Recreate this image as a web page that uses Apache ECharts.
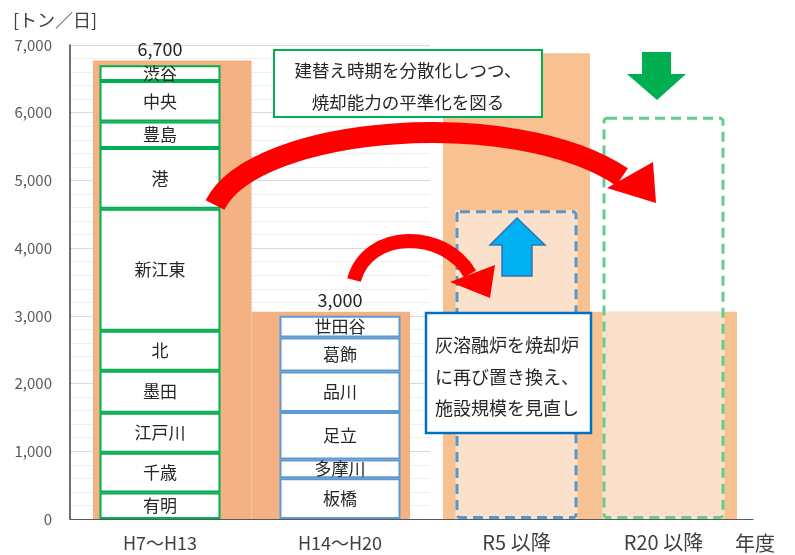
<!DOCTYPE html>
<html>
<head>
<meta charset="utf-8">
<script src="https://cdn.jsdelivr.net/npm/echarts@6/dist/echarts.min.js"></script>
<style>
html, body { margin: 0; padding: 0; background: #fff; }
#chart { width: 795px; height: 555px; }
</style>
</head>
<body>
<div id="chart"></div>
<script>
// categories
var pastCats = ['H7～H13', 'H14～H20'];
var futureCats = ['R5 以降', 'R20 以降'];

// plants per period (bottom -> top), t/day
var h7Names = ['有明', '千歳', '江戸川', '墨田', '北', '新江東', '港', '豊島', '中央', '渋谷'];
var h7Values = [390, 590, 590, 620, 590, 1800, 900, 390, 600, 230];
var h14Names = ['板橋', '多摩川', '足立', '品川', '葛飾', '世田谷'];
var h14Values = [600, 280, 700, 600, 500, 320];

// orange capacity blocks and dashed plan boxes
var pastCapacity = [6770, 3060];
var futureCapacity = [6880, 3060];
var futurePlan = [4560, 5940];

var FONT = "'Noto Sans CJK JP', 'Noto Sans', sans-serif";
var GREEN = '#00B050';
var BLUE = '#5B9BD5';
var TEXT = '#262626';

function sum(a) {
    return a.reduce(function (s, v) { return s + v; }, 0);
}
var totals = [sum(h7Values), sum(h14Values)];

var chart = echarts.init(document.getElementById('chart'));

function segSeries(names, values, col, border) {
    return names.map(function (name, i) {
        var data = ['-', '-'];
        data[col] = values[i];
        return {
            name: name,
            type: 'bar',
            stack: 'past',
            xAxisIndex: 0,
            yAxisIndex: 0,
            barWidth: 121,
            data: data,
            itemStyle: { color: '#fff', borderColor: border, borderWidth: 2 },
            label: { show: true, position: 'inside', formatter: '{a}', fontSize: 17, color: TEXT }
        };
    });
}

var valueAxis = { type: 'value', min: 0, max: 7000, interval: 1000 };

function makeGrid(left, width) {
    return { left: left, width: width, top: 45, bottom: 36, outerBoundsMode: 'none', containLabel: false };
}

var series = [
    {
        type: 'bar', xAxisIndex: 1, yAxisIndex: 1, z: 1, silent: true,
        barWidth: '100%', data: pastCapacity,
        itemStyle: { color: '#F4B183' }
    },
    {
        type: 'bar', xAxisIndex: 2, yAxisIndex: 2, z: 1, silent: true,
        barWidth: '100%', data: futureCapacity,
        itemStyle: { color: '#F8C191' }
    },
    {
        // lighter part where the plan box overlaps the capacity block
        type: 'bar', xAxisIndex: 3, yAxisIndex: 2, z: 2, silent: true,
        barWidth: 122, barGap: '-100%',
        data: futurePlan.map(function (v, i) { return Math.min(v, futureCapacity[i]); }),
        itemStyle: { color: '#FBE1CC' }
    },
    {
        type: 'bar', xAxisIndex: 3, yAxisIndex: 2, z: 3, silent: true,
        barWidth: 122, barGap: '-100%',
        data: futurePlan.map(function (v, i) {
            return { value: v, itemStyle: { borderColor: i === 0 ? '#5A96C8' : '#62CE8C' } };
        }),
        itemStyle: { color: 'transparent', borderWidth: 3, borderType: [10, 6], borderRadius: 3 }
    }
].concat(segSeries(h7Names, h7Values, 0, GREEN))
 .concat(segSeries(h14Names, h14Values, 1, BLUE))
 .concat([{
    name: 'total', type: 'bar', stack: 'past', xAxisIndex: 0, yAxisIndex: 0,
    barWidth: 121, data: [0, 0],
    itemStyle: { color: 'transparent' },
    label: {
        show: true, position: 'top', distance: 7, fontSize: 18, color: TEXT,
        formatter: function (p) { return totals[p.dataIndex].toLocaleString('en-US'); }
    }
}]);

var arrowZ = 100;

option = {
    animation: false,
    backgroundColor: '#fff',
    textStyle: { fontFamily: FONT },
    grid: [
        makeGrid(70, 360),
        makeGrid(93, 317),
        makeGrid(443, 294),
        makeGrid(430, 323)
    ],
    xAxis: [
        {
            gridIndex: 0, type: 'category', data: pastCats,
            axisLine: { lineStyle: { color: '#595959' } },
            axisTick: { show: false },
            axisLabel: { fontSize: 18, color: '#404040', margin: 15 }
        },
        { gridIndex: 1, type: 'category', data: pastCats, show: false },
        {
            gridIndex: 2, type: 'category', data: futureCats,
            axisLine: { show: false },
            axisTick: { show: false },
            axisLabel: { fontSize: 20, color: '#404040', margin: 13 }
        },
        { gridIndex: 2, type: 'category', data: futureCats, show: false },
        {
            gridIndex: 3, type: 'category', data: [''],
            axisLine: { lineStyle: { color: '#595959' } },
            axisTick: { show: false },
            axisLabel: { show: false },
            // empty first line pushes the name below the axis line
            name: '\n年度', nameLocation: 'end', nameGap: -18,
            nameTextStyle: { fontSize: 20, lineHeight: 48, color: '#404040' }
        }
    ],
    yAxis: [
        Object.assign({}, valueAxis, {
            gridIndex: 0,
            name: '[トン／日]', nameLocation: 'end', nameGap: 16,
            nameTextStyle: { fontSize: 18, color: '#404040', padding: [0, 30, 0, 0] },
            axisLine: { show: true, lineStyle: { color: '#404040', width: 1.5 } },
            axisTick: { show: false },
            axisLabel: {
                fontSize: 15, color: '#595959', margin: 18,
                formatter: function (v) { return v.toLocaleString('en-US'); }
            },
            splitLine: { lineStyle: { color: '#D9D9D9' } },
            minorTick: { show: false, splitNumber: 5 },
            minorSplitLine: { show: true, lineStyle: { color: '#EFEFEF' } }
        }),
        Object.assign({}, valueAxis, { gridIndex: 1, show: false }),
        Object.assign({}, valueAxis, { gridIndex: 2, show: false }),
        Object.assign({}, valueAxis, { gridIndex: 3, show: false })
    ],
    series: series,
    graphic: [
        // text box: top
        {
            type: 'rect', z: arrowZ,
            shape: { x: 274, y: 50, width: 268, height: 67 },
            style: { fill: '#fff', stroke: GREEN, lineWidth: 2 }
        },
        {
            type: 'text', z: arrowZ + 1,
            style: {
                text: '建替え時期を分散化しつつ、\n焼却能力の平準化を図る',
                x: 408, y: 86, align: 'center', verticalAlign: 'middle',
                fontSize: 17.5, lineHeight: 32, fill: TEXT, fontFamily: FONT
            }
        },
        // text box: middle
        {
            type: 'rect', z: arrowZ,
            shape: { x: 426, y: 313, width: 165, height: 120 },
            style: { fill: '#fff', stroke: '#0070C0', lineWidth: 2.5 }
        },
        {
            type: 'text', z: arrowZ + 1,
            style: {
                text: '灰溶融炉を焼却炉\nに再び置き換え、\n施設規模を見直し',
                x: 435, y: 377, align: 'left', verticalAlign: 'middle',
                fontSize: 18, lineHeight: 31.5, fill: TEXT, fontFamily: FONT
            }
        },
        // big red arrow
        {
            type: 'bezierCurve', z: arrowZ,
            shape: { x1: 215, y1: 205, cpx1: 255, cpy1: 125, cpx2: 515, cpy2: 105, x2: 622, y2: 177 },
            style: { stroke: '#FF0000', lineWidth: 21, fill: null }
        },
        {
            type: 'polygon', z: arrowZ,
            shape: { points: [[607, 188], [653, 162], [656, 203]] },
            style: { fill: '#FF0000' }
        },
        // small red arrow
        {
            type: 'bezierCurve', z: arrowZ,
            shape: { x1: 354, y1: 280, cpx1: 368, cpy1: 229, cpx2: 444, cpy2: 229, x2: 470, y2: 274 },
            style: { stroke: '#FF0000', lineWidth: 14, fill: null }
        },
        {
            type: 'polygon', z: arrowZ,
            shape: { points: [[450, 282], [495, 265], [490, 298]] },
            style: { fill: '#FF0000' }
        },
        // blue up arrow
        {
            type: 'polygon', z: arrowZ,
            shape: { points: [[517, 218], [545, 245], [532, 245], [532, 276], [502, 276], [502, 245], [490, 245]] },
            style: { fill: '#00B0F0', stroke: '#2E75B6', lineWidth: 1.5 }
        },
        // green down arrow
        {
            type: 'polygon', z: arrowZ,
            shape: { points: [[642, 52], [671, 52], [671, 74], [686, 74], [657, 100], [627, 74], [642, 74]] },
            style: { fill: '#00B050' }
        }
    ]
};

chart.setOption(option);
</script>
</body>
</html>
